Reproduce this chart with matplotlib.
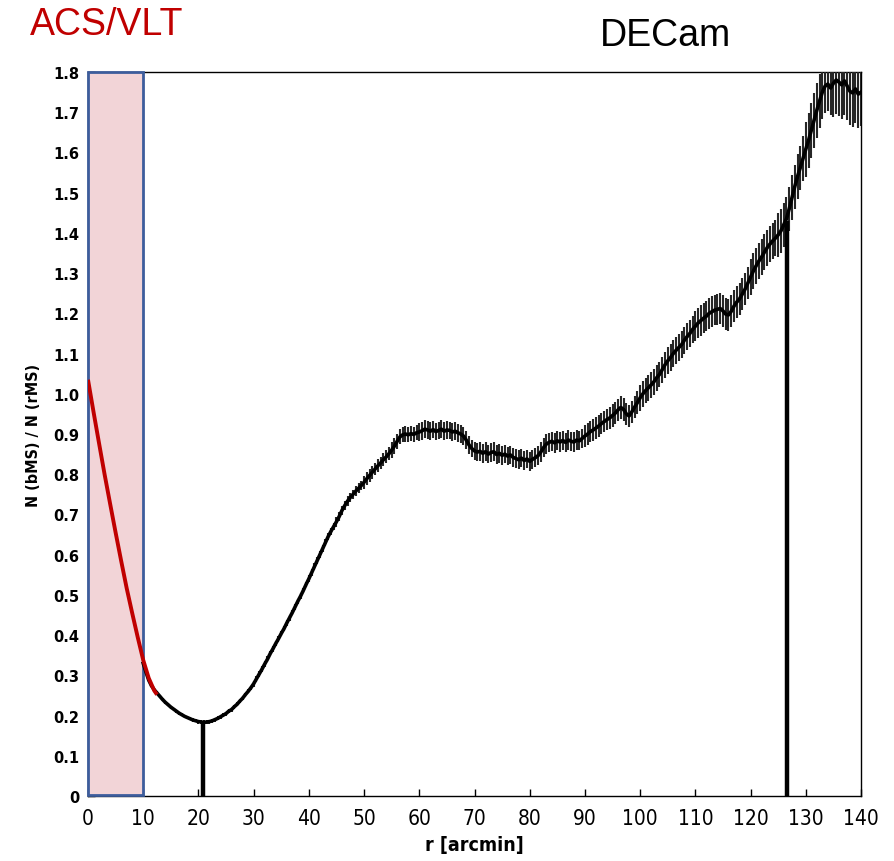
import numpy as np
import matplotlib
matplotlib.use("Agg")
import matplotlib.pyplot as plt
from matplotlib.patches import Rectangle

# ---- data ----
# ACS/VLT (red) profile
red_r = [0, 1, 2, 3, 4, 5, 6, 7, 8, 9, 10, 11, 12, 12.5]
red_ratio = [1.035, 0.955, 0.877, 0.800, 0.727, 0.655, 0.585, 0.517, 0.455,
             0.395, 0.338, 0.293, 0.262, 0.252]

# DECam (black) profile, sampled every 0.5 arcmin from 10 to 140
decam_r = np.arange(10.0, 140.01, 0.5)
decam_ratio = [
    0.330, 0.308, 0.288, 0.274, 0.264, 0.256, 0.248, 0.240, 0.233, 0.227,
    0.221, 0.216, 0.211, 0.206, 0.202, 0.198, 0.195, 0.192, 0.189, 0.187,
    0.185, 0.184, 0.183, 0.184, 0.185, 0.187, 0.190, 0.193, 0.197, 0.201,
    0.205, 0.211, 0.215, 0.222, 0.228, 0.236, 0.243, 0.252, 0.260, 0.269,
    0.279, 0.291, 0.303, 0.315, 0.328, 0.340, 0.354, 0.366, 0.379, 0.391,
    0.404, 0.416, 0.430, 0.443, 0.456, 0.470, 0.484, 0.497, 0.511, 0.526,
    0.540, 0.555, 0.570, 0.585, 0.600, 0.615, 0.630, 0.645, 0.658, 0.670,
    0.682, 0.695, 0.710, 0.722, 0.733, 0.742, 0.750, 0.758, 0.765, 0.772,
    0.780, 0.789, 0.797, 0.805, 0.813, 0.821, 0.828, 0.836, 0.843, 0.851,
    0.860, 0.870, 0.882, 0.893, 0.898, 0.900, 0.898, 0.901, 0.899, 0.903,
    0.905, 0.908, 0.912, 0.910, 0.907, 0.911, 0.906, 0.909, 0.912, 0.907,
    0.910, 0.909, 0.905, 0.907, 0.903, 0.900, 0.895, 0.885, 0.873, 0.864,
    0.858, 0.855, 0.857, 0.852, 0.856, 0.850, 0.854, 0.856, 0.849, 0.852,
    0.847, 0.850, 0.845, 0.848, 0.842, 0.839, 0.836, 0.840, 0.834, 0.838,
    0.832, 0.837, 0.841, 0.846, 0.855, 0.866, 0.875, 0.879, 0.882, 0.878,
    0.883, 0.880, 0.884, 0.879, 0.885, 0.882, 0.880, 0.885, 0.883, 0.889,
    0.895, 0.900, 0.906, 0.910, 0.915, 0.920, 0.926, 0.931, 0.936, 0.940,
    0.946, 0.952, 0.960, 0.966, 0.961, 0.950, 0.945, 0.955, 0.967, 0.978,
    0.990, 1.000, 1.008, 1.015, 1.022, 1.030, 1.040, 1.048, 1.060, 1.072,
    1.082, 1.090, 1.100, 1.108, 1.115, 1.122, 1.133, 1.142, 1.150, 1.160,
    1.168, 1.176, 1.182, 1.188, 1.193, 1.200, 1.204, 1.208, 1.210, 1.212,
    1.206, 1.198, 1.196, 1.205, 1.218, 1.228, 1.236, 1.248, 1.260, 1.275,
    1.290, 1.305, 1.318, 1.330, 1.340, 1.352, 1.363, 1.372, 1.380, 1.387,
    1.395, 1.405, 1.420, 1.435, 1.460, 1.488, 1.515, 1.540, 1.562, 1.585,
    1.608, 1.630, 1.655, 1.680, 1.705, 1.728, 1.750, 1.765, 1.770, 1.760,
    1.772, 1.780, 1.775, 1.768, 1.778, 1.765, 1.752, 1.748, 1.758, 1.745,
    1.750,
]
decam_err = [
    0.004, 0.004, 0.004, 0.004, 0.004, 0.004, 0.004, 0.004, 0.004, 0.004,
    0.004, 0.004, 0.004, 0.004, 0.004, 0.004, 0.004, 0.004, 0.004, 0.004,
    0.005, 0.005, 0.005, 0.005, 0.005, 0.005, 0.005, 0.005, 0.005, 0.005,
    0.005, 0.005, 0.005, 0.005, 0.005, 0.005, 0.005, 0.005, 0.005, 0.005,
    0.007, 0.007, 0.007, 0.007, 0.007, 0.007, 0.007, 0.007, 0.007, 0.007,
    0.007, 0.007, 0.007, 0.007, 0.007, 0.007, 0.007, 0.007, 0.007, 0.007,
    0.009, 0.009, 0.009, 0.009, 0.009, 0.009, 0.009, 0.009, 0.009, 0.009,
    0.012, 0.012, 0.012, 0.012, 0.012, 0.012, 0.012, 0.012, 0.012, 0.012,
    0.016, 0.016, 0.016, 0.016, 0.016, 0.016, 0.016, 0.016, 0.016, 0.016,
    0.019, 0.019, 0.019, 0.019, 0.019, 0.019, 0.019, 0.019, 0.019, 0.019,
    0.022, 0.022, 0.022, 0.022, 0.022, 0.022, 0.022, 0.022, 0.022, 0.022,
    0.022, 0.022, 0.022, 0.022, 0.022, 0.022, 0.022, 0.022, 0.022, 0.022,
    0.023, 0.023, 0.023, 0.023, 0.023, 0.023, 0.023, 0.023, 0.023, 0.023,
    0.023, 0.023, 0.023, 0.023, 0.023, 0.023, 0.023, 0.023, 0.023, 0.023,
    0.024, 0.024, 0.024, 0.024, 0.024, 0.024, 0.024, 0.024, 0.024, 0.024,
    0.024, 0.024, 0.024, 0.024, 0.024, 0.024, 0.024, 0.024, 0.024, 0.024,
    0.027, 0.027, 0.027, 0.027, 0.027, 0.027, 0.027, 0.027, 0.027, 0.027,
    0.028, 0.028, 0.028, 0.028, 0.028, 0.028, 0.028, 0.028, 0.028, 0.028,
    0.032, 0.032, 0.032, 0.032, 0.032, 0.032, 0.032, 0.032, 0.032, 0.032,
    0.034, 0.034, 0.034, 0.034, 0.034, 0.034, 0.034, 0.034, 0.034, 0.034,
    0.038, 0.038, 0.038, 0.038, 0.038, 0.038, 0.038, 0.038, 0.038, 0.038,
    0.040, 0.040, 0.040, 0.040, 0.040, 0.040, 0.040, 0.040, 0.040, 0.040,
    0.045, 0.045, 0.045, 0.045, 0.045, 0.045, 0.045, 0.045, 0.045, 0.045,
    0.055, 0.055, 0.055, 0.055, 0.055, 0.055, 0.055, 0.055, 0.055, 0.055,
    0.068, 0.068, 0.068, 0.068, 0.068, 0.068, 0.068, 0.068, 0.068, 0.068,
    0.085, 0.085, 0.085, 0.085, 0.085, 0.085, 0.085, 0.085, 0.085, 0.085,
    0.085,
]

# vertical marker lines (radius, height)
marker_r = [20.8, 126.6]
marker_h = [0.183, 1.43]

# ACS/VLT field extent
acs_extent = [0, 10]

xticks = list(range(0, 141, 10))
yticks = [0, 0.1, 0.2, 0.3, 0.4, 0.5, 0.6, 0.7, 0.8, 0.9, 1.0, 1.1, 1.2,
          1.3, 1.4, 1.5, 1.6, 1.7, 1.8]
ytick_labels = ["0", "0.1", "0.2", "0.3", "0.4", "0.5", "0.6", "0.7", "0.8",
                "0.9", "1.0", "1.1", "1.2", "1.3", "1.4", "1.5", "1.6", "1.7",
                "1.8"]

# ---- figure ----
fig = plt.figure(figsize=(8.94, 8.62), dpi=100)
ax = fig.add_axes([88 / 894, 65 / 862, 773 / 894, 724 / 862])

ax.set_xlim(0, 140)
ax.set_ylim(0, 1.8)

# ACS/VLT shaded region
rect = Rectangle((acs_extent[0], 0.003), acs_extent[1] - acs_extent[0], 1.797,
                 facecolor="#f2d4d7", edgecolor="#3d5d9c", linewidth=2.0,
                 zorder=2.6, clip_on=False)
ax.add_patch(rect)

# DECam profile with error bars
ax.errorbar(decam_r, decam_ratio, yerr=decam_err, fmt="none",
            ecolor="#262626", elinewidth=1.5, capsize=0, zorder=3)
ax.plot(decam_r, decam_ratio, color="black", linewidth=2.6, zorder=4)

# vertical markers
ax.vlines(marker_r, 0, marker_h, colors="black", linewidth=3.2, zorder=5)

# ACS/VLT profile
ax.plot(red_r, red_ratio, color="#c00000", linewidth=2.8, zorder=6,
        solid_capstyle="butt")

# ticks
ax.set_xticks(xticks)
ax.set_xticklabels([str(t) for t in xticks], family="DejaVu Sans",
                   fontstretch="condensed", fontsize=15)
ax.set_yticks(yticks)
ax.set_yticklabels(ytick_labels, family="DejaVu Sans", fontweight="bold",
                   fontsize=10.5)
ax.tick_params(axis="x", direction="in", length=5, width=1, pad=9,
               top=False)
ax.tick_params(axis="y", direction="in", length=5, width=1, pad=6,
               right=False)
for s in ax.spines.values():
    s.set_linewidth(1.0)
    s.set_color("black")

ax.set_xlabel("r [arcmin]", family="DejaVu Sans", fontstretch="condensed",
              fontweight="bold", fontsize=14, labelpad=5)
ax.set_ylabel("N (bMS) / N (rMS)", family="DejaVu Sans",
              fontstretch="condensed", fontweight="bold", fontsize=11.5,
              labelpad=9)

# headings
fig.text(30 / 894, 1 - 25 / 862, "ACS/VLT", color="#c00000",
         family=["Liberation Sans", "DejaVu Sans"], fontsize=27,
         ha="left", va="center")
fig.text(600 / 894, 1 - 36 / 862, "DECam", color="black",
         family=["Liberation Sans", "DejaVu Sans"], fontsize=27,
         ha="left", va="center")

fig.savefig("out.png", dpi=100)
